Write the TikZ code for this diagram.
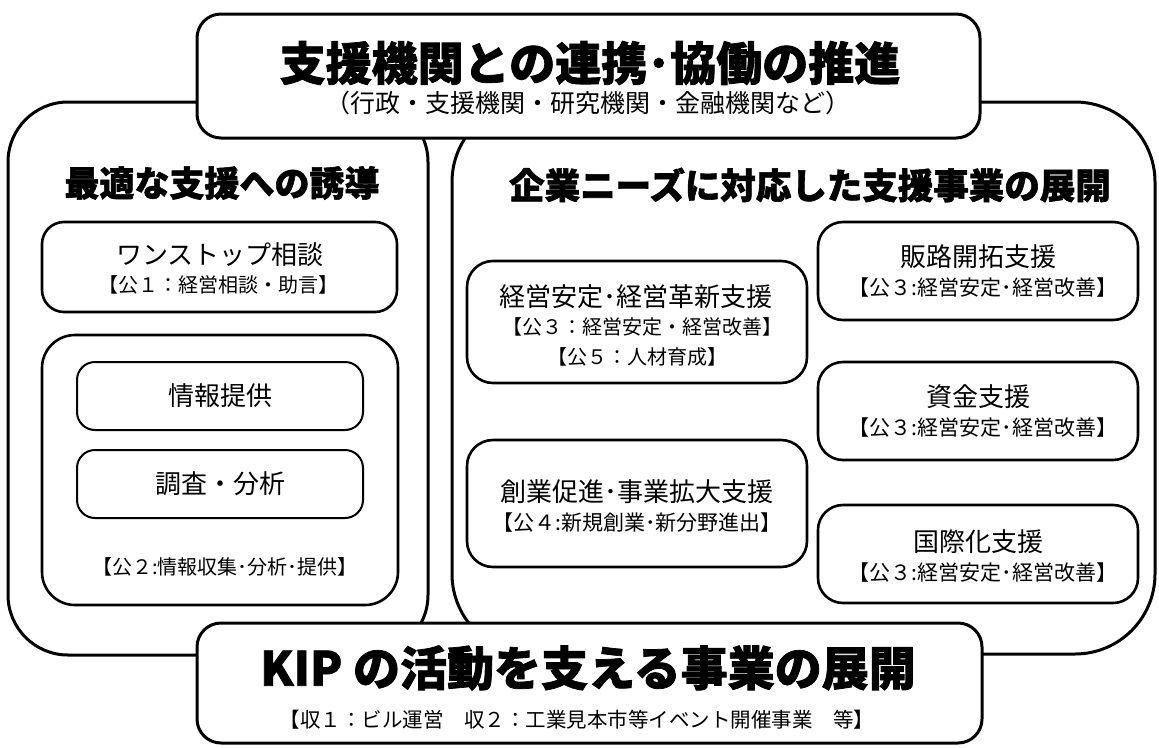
\documentclass[tikz,border=0pt]{standalone}
\usepackage{fontspec}
\setmainfont{Noto Sans CJK JP}
\newfontfamily\popfont{Noto Sans CJK JP}[BoldFeatures={FakeBold=1.6}]
\begin{document}
\begin{tikzpicture}[x=1pt,y=-1pt,
  panel/.style={draw, line width=3pt, fill=white, inner sep=0pt},
  head/.style={draw, line width=3pt, fill=white, rounded corners=24pt, inner sep=0pt},
  item/.style={draw, line width=2.6pt, rounded corners=25pt, inner sep=0pt},
  small/.style={draw, line width=2pt, rounded corners=18pt, inner sep=0pt},
  lbl/.style={inner sep=0pt, font=\fontsize{26}{30}\selectfont},
  sub/.style={inner sep=0pt, font=\fontsize{20}{24}\selectfont},
  pop/.style={inner sep=0pt, font=\popfont\bfseries\fontsize{35}{40}\selectfont},
]
\fill[white] (0,0) rectangle (1159,747);
\useasboundingbox (0,0) rectangle (1159,747);

% outer panels
\node[panel, rounded corners=60pt, minimum width=420pt, minimum height=553pt] (leftpanel) at (218,378.5) {};
\node[panel, rounded corners=80pt, minimum width=703pt, minimum height=552pt] (rightpanel) at (803.5,378) {};

% top and bottom banners
\node[head, minimum width=783pt, minimum height=124pt] (topbox) at (588.5,76) {};
\node[head, minimum width=785pt, minimum height=120pt] (botbox) at (589.5,683) {};

\node[pop, font=\popfont\bfseries\fontsize{46}{50}\selectfont] (toptitle) at (590,63) {支援機関との連携･協働の推進};
\node[inner sep=0pt, font=\fontsize{25}{28}\selectfont] (topsub) at (588,103) {（行政・支援機関・研究機関・金融機関など）};

\node[pop, font=\popfont\bfseries\fontsize{47}{52}\selectfont] (bottitle) at (588,668) {KIP の活動を支える事業の展開};
\node[sub, font=\fontsize{20.5}{24}\selectfont] (botsub) at (577,720) {【収１：ビル運営　収２：工業見本市等イベント開催事業　等】};

% headings
\node[pop] (lefthead) at (222,183) {最適な支援への誘導};
\node[pop, font=\popfont\bfseries\fontsize{35.5}{40}\selectfont] (righthead) at (810,185) {企業ニーズに対応した支援事業の展開};

% left column
\node[item, rounded corners=22pt, minimum width=355pt, minimum height=90pt] (onestop) at (219.5,267) {};
\node[lbl] (onestopt) at (220,255) {ワンストップ相談};
\node[sub] (onestops) at (218,285) {【公１：経営相談・助言】};

\node[item, rounded corners=33pt, minimum width=356pt, minimum height=270pt] (group) at (220,470) {};
\node[small, minimum width=286pt, minimum height=68pt] (joho) at (220,396) {};
\node[lbl] (johot) at (220,396) {情報提供};
\node[small, minimum width=286pt, minimum height=68pt] (chosa) at (220,484) {};
\node[lbl] (chosat) at (220,484) {調査・分析};
\node[sub] (groups) at (225,567) {【公２:情報収集･分析･提供】};

% middle column
\node[item, rounded corners=26pt, minimum width=340pt, minimum height=122pt] (keiei) at (637,322) {};
\node[lbl] (keieit) at (636,297) {経営安定･経営革新支援};
\node[sub] (keieis1) at (642,327) {【公３：経営安定・経営改善】};
\node[sub] (keieis2) at (637,357) {【公５：人材育成】};

\node[item, rounded corners=26pt, minimum width=340pt, minimum height=127pt] (sogyo) at (637,503.5) {};
\node[lbl] (sogyot) at (637,492) {創業促進･事業拡大支援};
\node[sub, font=\fontsize{21}{24}\selectfont] (sogyos) at (637,523) {【公４:新規創業･新分野進出】};

% right column
\node[item, minimum width=320pt, minimum height=98pt] (hanro) at (978,271) {};
\node[lbl] (hanrot) at (978,257) {販路開拓支援};
\node[sub, font=\fontsize{21}{24}\selectfont] (hanros) at (983,288) {【公３:経営安定･経営改善】};

\node[item, minimum width=320pt, minimum height=98pt] (shikin) at (978,411) {};
\node[lbl] (shikint) at (978,397) {資金支援};
\node[sub, font=\fontsize{21}{24}\selectfont] (shikins) at (983,428) {【公３:経営安定･経営改善】};

\node[item, minimum width=320pt, minimum height=98pt] (kokusai) at (978,554) {};
\node[lbl] (kokusait) at (978,542) {国際化支援};
\node[sub, font=\fontsize{21}{24}\selectfont] (kokusais) at (983,573) {【公３:経営安定･経営改善】};
\end{tikzpicture}
\end{document}
